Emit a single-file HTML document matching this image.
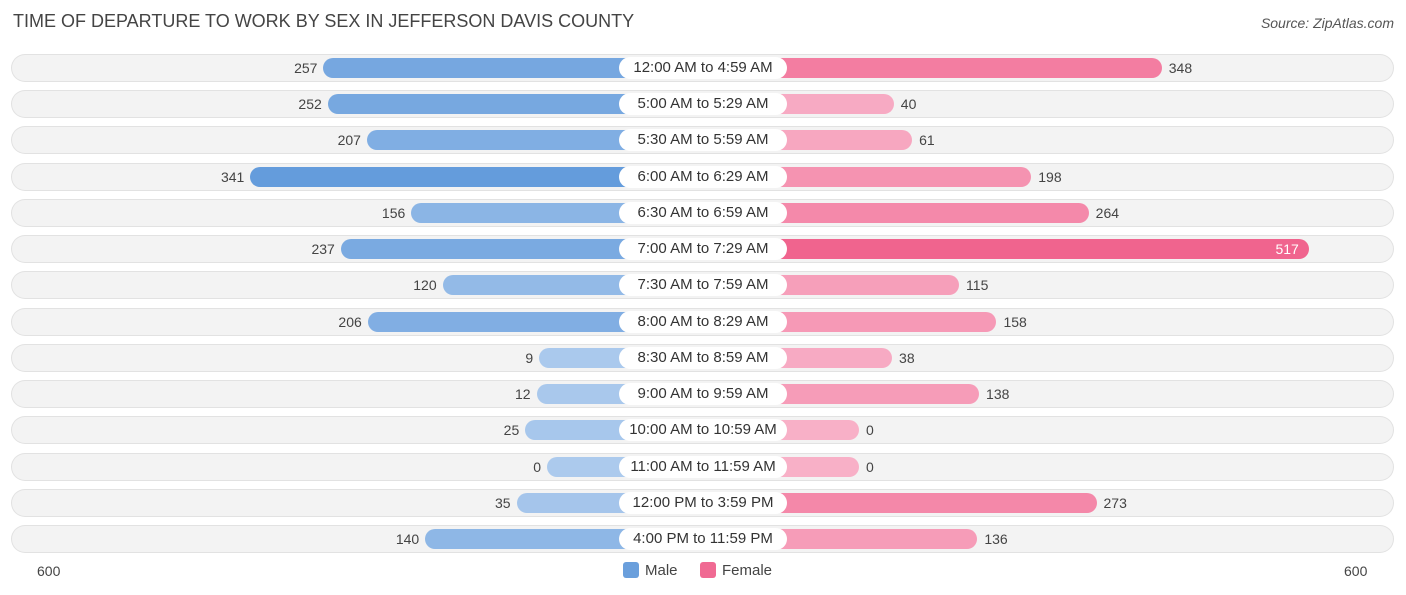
<!DOCTYPE html>
<html><head><meta charset="utf-8"><style>
body{margin:0;background:#fff;font-family:"Liberation Sans",sans-serif;}
#wrap{position:relative;width:1406px;height:595px;overflow:hidden;}
.title{position:absolute;left:13px;top:11px;font-size:18px;color:#444;}
.src{position:absolute;right:12px;top:15px;font-size:14px;color:#555;font-style:italic;}
.row{position:absolute;left:12px;width:1381px;height:26px;border-radius:13px;background:#f3f3f3;box-shadow:0 0 0 1px #e2e2e2;}
.bar{position:absolute;height:20px;border-radius:10px;}
.lab{position:absolute;height:22px;line-height:22px;border-radius:11px;background:#fff;font-size:15px;color:#333;text-align:center;width:168px;}
.val{position:absolute;font-size:14px;color:#444;line-height:20px;}
.ax{position:absolute;top:563px;font-size:14px;color:#444;}
.leg{position:absolute;top:562px;font-size:15px;color:#444;}
.sw{display:inline-block;width:16px;height:16px;border-radius:3px;vertical-align:-3px;margin-right:6px;}
</style></head><body><div id="wrap">
<div class="title">TIME OF DEPARTURE TO WORK BY SEX IN JEFFERSON DAVIS COUNTY</div>
<div class="src">Source: ZipAtlas.com</div>
<div class="ax" style="left:37px">600</div>
<div class="ax" style="left:1344px">600</div>
<div class="leg" style="left:623px"><span class="sw" style="background:#6a9fdc"></span>Male</div>
<div class="leg" style="left:700px"><span class="sw" style="background:#f06a93"></span>Female</div>
</div>
<script>
const categories=["12:00 AM to 4:59 AM","5:00 AM to 5:29 AM","5:30 AM to 5:59 AM","6:00 AM to 6:29 AM","6:30 AM to 6:59 AM","7:00 AM to 7:29 AM","7:30 AM to 7:59 AM","8:00 AM to 8:29 AM","8:30 AM to 8:59 AM","9:00 AM to 9:59 AM","10:00 AM to 10:59 AM","11:00 AM to 11:59 AM","12:00 PM to 3:59 PM","4:00 PM to 11:59 PM"];
const male=[257,252,207,341,156,237,120,206,9,12,25,0,35,140];
const female=[348,40,61,198,264,517,115,158,38,138,0,0,273,136];
const W=document.getElementById('wrap');
const cx=703,minLen=156,k=0.87;
function len(v){return minLen+v*k;}
function mix(a,b,t){return 'rgb('+a.map((x,i)=>Math.round(x+(b[i]-x)*t)).join(',')+')';}
categories.forEach((c,i)=>{
 const y=68+i*36.23;
 const r=document.createElement('div');r.className='row';r.style.top=(y-13)+'px';
 
 
 W.appendChild(r);
 const lm=len(male[i]);
 const bm=document.createElement('div');bm.className='bar';
 bm.style.left=(cx-lm)+'px';bm.style.width=lm+'px';bm.style.top=(y-10)+'px';
 bm.style.background=mix([172,202,237],[100,156,220],Math.min(male[i]/341,1));
 
 
 W.appendChild(bm);
 const lf=len(female[i]);
 const bf=document.createElement('div');bf.className='bar';
 bf.style.left=cx+'px';bf.style.width=lf+'px';bf.style.top=(y-10)+'px';
 bf.style.background=mix([248,176,199],[240,100,142],Math.min(female[i]/517,1));
 
 
 W.appendChild(bf);
 const l=document.createElement('div');l.className='lab';l.textContent=c;
 l.style.left=(cx-84)+'px';l.style.top=(y-11)+'px';
 
 
 W.appendChild(l);
 const vm=document.createElement('div');vm.className='val';vm.textContent=male[i];
 vm.style.right=(1406-(cx-lm)+6)+'px';vm.style.top=(y-10)+'px';
 
 
 W.appendChild(vm);
 const vf=document.createElement('div');vf.className='val';vf.textContent=female[i];
 if(female[i]>450){vf.style.right=(1406-(cx+lf)+10)+'px';vf.style.color='#fff';}
 else vf.style.left=(cx+lf+7)+'px';
 vf.style.top=(y-10)+'px';
 
 
 W.appendChild(vf);
});
</script></body></html>
